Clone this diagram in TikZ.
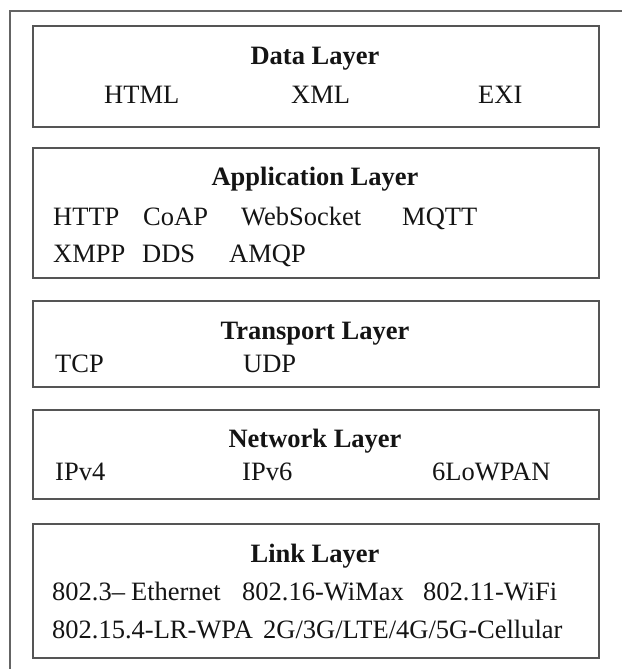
\documentclass[tikz,border=0pt]{standalone}
\usepackage{fontspec}
\setmainfont{Liberation Serif}
\definecolor{boxgray}{RGB}{85,85,85}
\definecolor{framegray}{RGB}{100,100,100}
\definecolor{txt}{RGB}{20,20,20}
\tikzset{
  layerbox/.style={draw=boxgray, line width=2pt, inner sep=0pt, anchor=north west, fill=white},
  title/.style={anchor=base, inner sep=0pt, text=txt, font=\fontsize{26.5}{30}\selectfont\bfseries},
  item/.style={anchor=base west, inner sep=0pt, text=txt, font=\fontsize{26.5}{30}\selectfont}
}
\begin{document}
\begin{tikzpicture}[x=1pt,y=-1pt]
\useasboundingbox (0,0) rectangle (622,669);
% outer frame (cropped at right and bottom)
\draw[framegray, line width=2pt] (10,669) -- (10,11) -- (622,11);
% layer boxes
\node[layerbox, minimum width=566pt, minimum height=101pt] (data) at (32,25) {};
\node[layerbox, minimum width=566pt, minimum height=130pt] (app) at (32,147) {};
\node[layerbox, minimum width=566pt, minimum height=86pt] (trans) at (32,300) {};
\node[layerbox, minimum width=566pt, minimum height=89pt] (net) at (32,409) {};
\node[layerbox, minimum width=566pt, minimum height=134pt] (link) at (32,523) {};
% Data layer
\node[title] (tdata) at (315,64) {Data Layer};
\node[item] (html) at (104,103) {HTML};
\node[item] (xml) at (291,103) {XML};
\node[item] (exi) at (478,103) {EXI};
% Application layer
\node[title] (tapp) at (315,185) {Application Layer};
\node[item] (http) at (53,225) {HTTP};
\node[item] (coap) at (143,225) {CoAP};
\node[item] (ws) at (241,225) {WebSocket};
\node[item] (mqtt) at (402,225) {MQTT};
\node[item] (xmpp) at (53,262) {XMPP};
\node[item] (dds) at (142,262) {DDS};
\node[item] (amqp) at (229,262) {AMQP};
% Transport layer
\node[title] (ttrans) at (315,339) {Transport Layer};
\node[item] (tcp) at (55,372) {TCP};
\node[item] (udp) at (243,372) {UDP};
% Network layer
\node[title] (tnet) at (315,447) {Network Layer};
\node[item] (ipv4) at (55,480) {IPv4};
\node[item] (ipv6) at (242,480) {IPv6};
\node[item] (lowpan) at (432,480) {6LoWPAN};
% Link layer
\node[title] (tlink) at (315,562) {Link Layer};
\node[item] (eth) at (52,600) {802.3–\kern6pt Ethernet};
\node[item] (wimax) at (242,600) {802.16-WiMax};
\node[item] (wifi) at (423,600) {802.11-WiFi};
\node[item] (lrwpa) at (52,638) {802.15.4-LR-WPA};
\node[item] (cell) at (263,638) {2G/3G/LTE/4G/5G-Cellular};
\end{tikzpicture}
\end{document}
